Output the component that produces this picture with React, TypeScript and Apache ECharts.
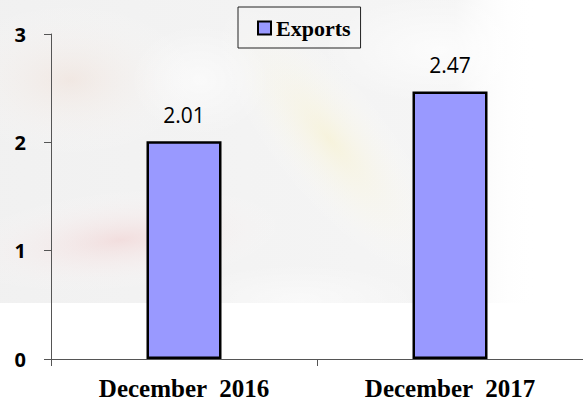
import React, { useEffect, useRef } from "react";
import * as echarts from "echarts";

const categories = ["December  2016", "December  2017"];
const exportsValues = [2.01, 2.47];
const yTicks = [0, 1, 2, 3];
const seriesName = "Exports";

export default function App() {
  const ref = useRef<HTMLDivElement>(null);
  useEffect(() => {
    if (!ref.current) return;
    const chart = echarts.init(ref.current, null, { renderer: "svg" });
    const radial = (c: string) => ({
      type: "radial",
      x: 0.5,
      y: 0.5,
      r: 0.5,
      colorStops: [
        { offset: 0, color: c },
        { offset: 1, color: "rgba(255,255,255,0)" },
      ],
    });
    const blob = (x: number, y: number, r: number, sy: number, rot: number, c: string) => ({
      type: "circle",
      silent: true,
      z: -9,
      x,
      y,
      rotation: rot,
      scaleX: 1,
      scaleY: sy,
      shape: { cx: 0, cy: 0, r },
      style: { fill: radial(c) },
    });
    chart.setOption({
      animation: false,
      backgroundColor: "#ffffff",
      graphic: [
        {
          type: "rect",
          silent: true,
          z: -10,
          shape: { x: 0, y: 0, width: 535, height: 303 },
          style: {
            fill: {
              type: "linear",
              x: 0,
              y: 0,
              x2: 1,
              y2: 0,
              colorStops: [
                { offset: 0, color: "rgba(236,236,236,0.75)" },
                { offset: 0.85, color: "rgba(238,238,238,0.6)" },
                { offset: 1, color: "rgba(255,255,255,0)" },
              ],
            },
          },
        },
        blob(120, 240, 170, 0.3, 0.1, "rgba(242,205,205,0.55)"),
        blob(70, 80, 130, 0.6, 0, "rgba(240,222,212,0.5)"),
        blob(330, 140, 170, 0.35, -0.9, "rgba(248,242,205,0.6)"),
        blob(200, 80, 70, 0.8, 0, "rgba(255,255,255,0.6)"),
        blob(440, 50, 120, 0.45, 0, "rgba(255,255,255,0.7)"),
        blob(300, 300, 120, 0.3, 0, "rgba(255,255,255,0.5)"),
      ],
      grid: { left: 51, right: 0, top: 34, bottom: 41, containLabel: false },
      legend: {
        data: [seriesName],
        left: 238,
        top: 7,
        padding: [10, 10, 9, 19],
        borderColor: "#222",
        borderWidth: 1,
        itemWidth: 13,
        itemHeight: 13,
        itemGap: 5,
        icon: "rect",
        itemStyle: { color: "#9999ff", borderColor: "#000", borderWidth: 2 },
        textStyle: {
          fontFamily: "Liberation Serif",
          fontWeight: "bold",
          fontSize: 22,
          color: "#000",
        },
      },
      xAxis: {
        type: "category",
        data: categories,
        boundaryGap: true,
        axisLine: { lineStyle: { color: "#555", width: 1 } },
        axisTick: { show: true, length: 7, lineStyle: { color: "#555" } },
        axisLabel: {
          margin: 17,
          fontFamily: "Liberation Serif",
          fontWeight: "bold",
          fontSize: 25,
          color: "#000",
        },
      },
      yAxis: {
        type: "value",
        min: yTicks[0],
        max: yTicks[yTicks.length - 1],
        interval: 1,
        splitLine: { show: false },
        axisLine: { show: true, lineStyle: { color: "#555", width: 1 } },
        axisTick: { show: true, length: 7, lineStyle: { color: "#555" } },
        axisLabel: {
          margin: 25,
          fontFamily: "Open Sans",
          fontWeight: "bold",
          fontSize: 20,
          color: "#000",
        },
      },
      series: [
        {
          name: seriesName,
          type: "bar",
          data: exportsValues,
          barWidth: 75,
          itemStyle: { color: "#9999ff", borderColor: "#000", borderWidth: 2.5 },
          label: {
            show: true,
            position: "top",
            distance: 16,
            fontFamily: "Open Sans",
            fontSize: 21,
            color: "#000",
            formatter: (p: any) => p.value.toFixed(2),
          },
        },
      ],
    });
    return () => chart.dispose();
  }, []);
  return <div ref={ref} style={{ width: 583, height: 401, position: "absolute", left: 0, top: 0 }} />;
}
